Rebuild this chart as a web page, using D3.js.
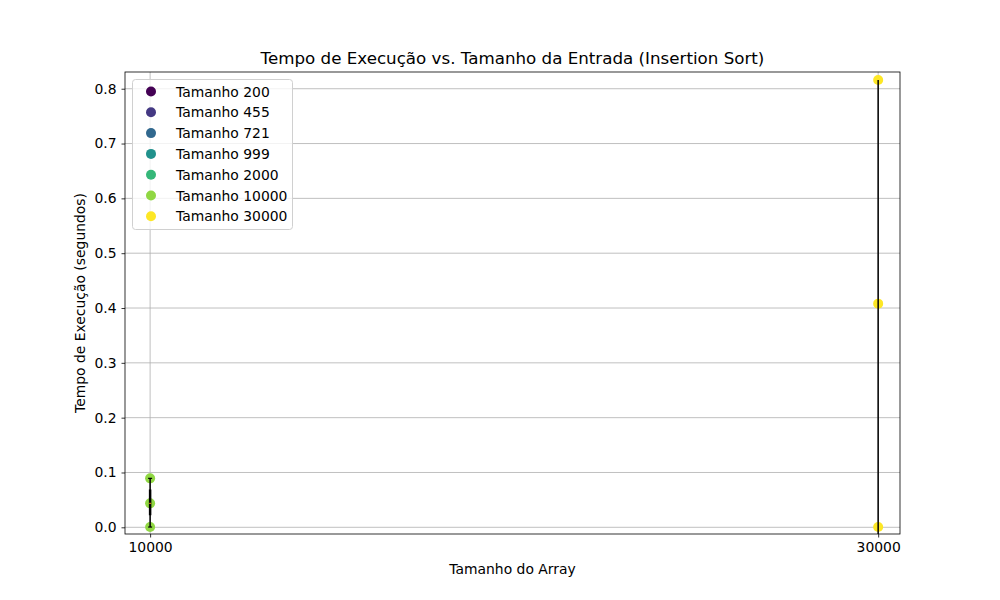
<!DOCTYPE html>
<html><head><meta charset="utf-8">
<script src="https://cdn.jsdelivr.net/npm/d3@7"></script>
<style>body{margin:0;background:#fff}svg{font-family:"DejaVu Sans",sans-serif}</style>
</head><body><svg id="c" width="1000" height="600"></svg>
<script>
const sizes = [200, 455, 721, 999, 2000, 10000, 30000];
const legendLabels = sizes.map(s => "Tamanho " + s);
// measured times (only sizes 10000 and 30000 have points)
const pointsX = [10000, 10000, 10000, 30000, 30000, 30000];
const pointsY = [0.0005, 0.0437, 0.0893, 0.0005, 0.408, 0.816];
// error bar segments: x, low, high
const errX = [10000, 10000, 30000];
const errLow = [0.0005, 0.022, -0.05];
const errHigh = [0.0893, 0.069, 0.816];
const xTicks = [10000, 30000];
const yTicks = [0, 0.1, 0.2, 0.3, 0.4, 0.5, 0.6, 0.7, 0.8];

const svg = d3.select("#c");
const L = 125, R = 900, T = 72, B = 534;
const x = d3.scaleLinear().domain([9310, 30600]).range([L, R]);
const y = d3.scaleLinear().domain([-0.0122, 0.8305]).range([B, T]);
const color = i => d3.interpolateViridis(i / (sizes.length - 1));

svg.append("defs").append("clipPath").attr("id","clip").append("rect")
  .attr("x", L).attr("y", T).attr("width", R - L).attr("height", B - T);

// grid
const g = svg.append("g");
g.selectAll(".gy").data(yTicks).join("line")
  .attr("x1", L).attr("x2", R).attr("y1", d => y(d)).attr("y2", d => y(d))
  .attr("stroke", "#b0b0b0").attr("stroke-width", 0.8);
g.selectAll(".gx").data(xTicks).join("line")
  .attr("y1", T).attr("y2", B).attr("x1", d => x(d)).attr("x2", d => x(d))
  .attr("stroke", "#b0b0b0").attr("stroke-width", 0.8);

const plot = svg.append("g").attr("clip-path", "url(#clip)");
// points
plot.selectAll("circle").data(pointsX.map((px, i) => ({x: px, y: pointsY[i]})))
  .join("circle").attr("cx", d => x(d.x)).attr("cy", d => y(d.y)).attr("r", 5)
  .attr("fill", d => color(sizes.indexOf(d.x)));
// error bars
errX.forEach((ex, i) => {
  plot.append("line").attr("x1", x(ex)).attr("x2", x(ex))
    .attr("y1", y(errLow[i])).attr("y2", y(errHigh[i]))
    .attr("stroke", "#000").attr("stroke-width", i === 1 ? 2.5 : 1.5);
});
// caps at 10000
[errLow[0], errHigh[0]].forEach(v => {
  plot.append("line").attr("x1", x(errX[0]) - 2).attr("x2", x(errX[0]) + 2)
    .attr("y1", y(v)).attr("y2", y(v)).attr("stroke", "#000").attr("stroke-width", 1.2);
});
// mean marker
plot.append("line").attr("x1", x(10000) - 1).attr("x2", x(10000) + 1)
  .attr("y1", y(0.0437)).attr("y2", y(0.0437)).attr("stroke", "#ff7f0e").attr("stroke-width", 1);

// axes
const xa = svg.append("g").attr("transform", `translate(0,${B})`)
  .call(d3.axisBottom(x).tickValues(xTicks).tickFormat(d3.format("d")).tickSize(3.5).tickPadding(5));
const ya = svg.append("g").attr("transform", `translate(${L},0)`)
  .call(d3.axisLeft(y).tickValues(yTicks).tickFormat(d3.format(".1f")).tickSize(3.5).tickPadding(5));
[xa, ya].forEach(a => {
  a.select(".domain").remove();
  a.selectAll("text").attr("font-size", 13.9).attr("fill", "#000").attr("font-family", "DejaVu Sans");
  a.selectAll("line").attr("stroke", "#000").attr("stroke-width", 0.8);
});
svg.append("rect").attr("x", L).attr("y", T).attr("width", R - L).attr("height", B - T)
  .attr("fill", "none").attr("stroke", "#000").attr("stroke-width", 0.8);

// labels
svg.append("text").attr("x", (L + R) / 2).attr("y", 64).attr("text-anchor", "middle")
  .attr("font-size", 16.7).text("Tempo de Execução vs. Tamanho da Entrada (Insertion Sort)");
svg.append("text").attr("x", (L + R) / 2).attr("y", 574).attr("text-anchor", "middle")
  .attr("font-size", 13.9).text("Tamanho do Array");
svg.append("text").attr("transform", `translate(85,${(T + B) / 2}) rotate(-90)`)
  .attr("text-anchor", "middle").attr("font-size", 13.9).text("Tempo de Execução (segundos)");

// legend
const lg = svg.append("g");
lg.append("rect").attr("x", 132.5).attr("y", 79.5).attr("width", 160).attr("height", 150)
  .attr("rx", 3).attr("fill", "#fff").attr("fill-opacity", 0.8).attr("stroke", "#d0d0d0");
legendLabels.forEach((t, i) => {
  const cy = 91.5 + i * 20.8;
  lg.append("circle").attr("cx", 151).attr("cy", cy).attr("r", 5).attr("fill", color(i));
  lg.append("text").attr("x", 176).attr("y", cy + 5).attr("font-size", 13.9).text(t);
});
</script></body></html>
